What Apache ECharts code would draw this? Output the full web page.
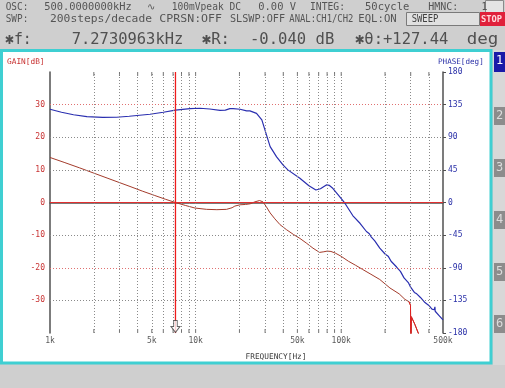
<!DOCTYPE html>
<html><head><meta charset="utf-8">
<script src="https://cdn.jsdelivr.net/npm/echarts@6/dist/echarts.min.js"></script>
<style>html,body{margin:0;padding:0;background:#cdcdcd;overflow:hidden}#c{width:505px;height:388px}</style>
</head><body><div id="c"></div>
<script>
// ---------- data ----------
const gainFreq = [1000,1250,1600,2000,2500,3000,3600,4300,5200,6200,7270,8500,9900,11900,14000,16300,17800,18600,20200,22000,23700,25500,27500,29000,30500,32500,35000,38000,42000,47000,52000,57500,64000,71000,76000,80000,85000,91000,100000,112000,125000,140000,160000,184000,216000,250000,274000,292000,299000,301000,303000,320000,345000];
const gainDb   = [13.8,12.3,10.6,9.0,7.4,6.1,4.8,3.5,2.2,1.0,0.0,-0.9,-1.7,-2.1,-2.2,-2.1,-1.6,-1.1,-0.7,-0.6,-0.4,0.2,0.6,0.2,-1.2,-3.2,-5.0,-6.8,-8.3,-9.8,-11.0,-12.4,-14.0,-15.3,-15.1,-14.9,-15.0,-15.5,-16.5,-18.0,-19.2,-20.5,-22.0,-23.6,-26.2,-28.0,-29.7,-30.4,-31.5,-46,-35.0,-37.3,-41.0];
const phaseFreq = [1000,1200,1450,1790,2300,2870,3500,4860,6000,7270,9150,10700,12500,14700,16000,17200,18100,20200,22400,23600,26200,28500,30700,32500,36000,39800,43000,52000,60000,67000,72000,79000,83000,87500,95000,106000,120000,135000,149000,156000,160000,170000,184000,200000,210000,220000,240000,255000,270000,290000,298000,305000,318000,330000,350000,376000,400000,420000,435000,440000,442000,470000,500000];
const phaseDeg  = [128.6,124.5,121,118.4,117.5,117.6,119,121.7,124.5,127.4,129.4,130,129,127.2,127.5,129.4,129.6,128.6,126.3,126.3,123,113.9,93,77,63,51.8,45,33.4,23,17.3,19,24.2,23.5,19.6,11,-1,-18,-29,-40,-43,-47,-53,-63,-71,-74,-81,-89,-95,-104,-111,-116,-118,-124,-126,-131,-138,-142,-147,-148,-144,-150,-156,-162];
const gainHiFreqFrom = 290000;   // part of the gain trace drawn in bright red
const markerFreq = 7273.0963;
const xGridFreq = [2000,3000,4000,5000,6000,7000,8000,9000,10000,20000,30000,40000,50000,60000,70000,80000,90000,100000,200000,300000,400000];
const xLabelFreq = [1000,5000,10000,50000,100000,500000];
const xLabelText = ['1k','5k','10k','50k','100k','500k'];
const gainGridDb = [-30,-20,-10,10,20,30];
const gainRedGridDb = [30,-20];
const gainTicks = {min:-40,max:40,step:10};
const phaseTicks = {min:-180,max:180,step:45};

const row1 = ['OSC:','500.0000000kHz','\u223F','100mVpeak DC','0.00 V','INTEG:','50cycle','HMNC:','1'];
const row2 = ['SWP:','200steps/decade','CPRSN:OFF','SLSWP:OFF','ANAL:CH1/CH2','EQL:ON'];
const row3 = ['\u2731f:','7.2730963kHz','\u2731R:','-0.040 dB','\u2731\u03B8:+127.44','deg'];
const tabs = ['1','2','3','4','5','6'];

// ---------- layout ----------
const MONO = '"DejaVu Sans Mono", "Liberation Mono", monospace';
const row1Span = [[5.7,28.3],[44.3,131.7],[146.7,156.7],[171.7,241],[258.3,296],[310,345],[365,409.3],[428.3,458.3],[481.5,485]];
const row2Span = [[5.7,28.3],[50,152],[159.3,222],[230,285],[289.3,353.3],[358.3,396.7]];
const row3Span = [[5,31.7],[71.7,183.3],[201.7,230],[250,334.3],[355,448.3],[466.7,498.3]];
const tabY = [52,107,159,211,263,315];

const cv = document.createElement('canvas').getContext('2d');
function fitText(t, span, y, font, fill, z){
  cv.font = font;
  const w = cv.measureText(t).width || 1;
  const s = t.length === 1 ? 1 : (span[1]-span[0])/w;
  return {type:'text', z:z||10, x:span[0], y:y, scaleX:s, style:{text:t, fill:fill, font:font, verticalAlign:'middle'}};
}

const g = [];
g.push({type:'rect', z:-20, shape:{x:0,y:0,width:505,height:388}, style:{fill:'#cfcfcf'}});
g.push({type:'rect', z:-19, shape:{x:493,y:50,width:12,height:315}, style:{fill:'#d8d8d8'}});
g.push({type:'rect', z:-18, shape:{x:1.5,y:50.5,width:489.5,height:312.5}, style:{fill:'#ffffff', stroke:'#3fcfd2', lineWidth:3}});
const f12 = '9.8px '+MONO, f3 = '16.2px '+MONO;
row1.forEach((t,i)=>g.push(fitText(t,row1Span[i],7,f12,'#555555')));
row2.forEach((t,i)=>g.push(fitText(t,row2Span[i],19.5,f12,'#555555')));
row3.forEach((t,i)=>g.push(fitText(t,row3Span[i],39.5,f3,'#505050')));
g.push({type:'rect', z:9, shape:{x:485.5,y:0.5,width:18,height:13}, style:{fill:'#e4e4e4', stroke:'#8a8a8a', lineWidth:1}});
g.push({type:'rect', z:9, shape:{x:406.5,y:12.5,width:73,height:13}, style:{fill:'#e0e0e0', stroke:'#7a7a7a', lineWidth:1}});
g.push(fitText('SWEEP',[411.7,438.3],19.5,f12,'#404040'));
g.push({type:'rect', z:9, shape:{x:480,y:12,width:25,height:14}, style:{fill:'#e0203a'}});
g.push(fitText('STOP',[481,502],19.5,'bold 9.5px '+MONO,'#ffd8dc'));
tabs.forEach((t,i)=>{
  g.push({type:'rect', z:9, shape:{x:494,y:tabY[i],width:11,height:i===0?20:18}, style:{fill: i===0?'#1a1aa8':'#8c8c8c'}});
  g.push({type:'text', z:10, x:499.5, y:tabY[i]+9, style:{text:t, fill: i===0?'#ffffff':'#dcdcdc', font:'12px '+MONO, align:'center', verticalAlign:'middle'}});
});
g.push({type:'text', z:10, x:7, y:62, style:{text:'GAIN[dB]', fill:'#c83232', font:'7.8px '+MONO, verticalAlign:'middle'}});
g.push({type:'text', z:10, x:438, y:62, style:{text:'PHASE[deg]', fill:'#2a30a8', font:'7.6px '+MONO, verticalAlign:'middle'}});
g.push({type:'text', z:10, x:276, y:357, style:{text:'FREQUENCY[Hz]', fill:'#3a3a3a', font:'7.8px '+MONO, align:'center', verticalAlign:'middle'}});

const gridLines = [];
xGridFreq.forEach(f=>gridLines.push({xAxis:f, lineStyle:{color:'#8a8a8a', type:[1,2], width:1}}));
gainGridDb.forEach(v=>gridLines.push({yAxis:v, lineStyle:{color: gainRedGridDb.includes(v)?'#e07070':'#8a8a8a', type:[1,2], width:1}}));
gridLines.push({yAxis:0, lineStyle:{color:'#e03030', type:'solid', width:1}});

const tickData = [];
xGridFreq.forEach(f=>{
  tickData.push({value:[f,gainTicks.min], symbolOffset:[0,-2]});
  tickData.push({value:[f,gainTicks.max], symbolOffset:[0,2]});
});

const gainData = gainFreq.map((f,i)=>[f,gainDb[i]]);
const gainHiData = gainData.filter(d=>d[0]>=gainHiFreqFrom);
const phaseData = phaseFreq.map((f,i)=>[f,phaseDeg[i]]);
const markerData = [[markerFreq,gainTicks.min],[markerFreq,gainTicks.max]];

const option = {
  animation:false,
  graphic:{elements:g},
  grid:{left:50,right:62,top:72,bottom:55,containLabel:false},
  xAxis:{type:'log', logBase:10, min:1000, max:500000,
    axisLine:{show:true, lineStyle:{color:'#505050', width:1.5}},
    axisTick:{show:false}, axisLabel:{show:false}, splitLine:{show:false}},
  yAxis:[
    {type:'value', position:'left', min:gainTicks.min, max:gainTicks.max, interval:gainTicks.step,
     axisLine:{show:true, lineStyle:{color:'#505050', width:1.5}},
     axisTick:{show:false}, splitLine:{show:false},
     axisLabel:{margin:5, color:'#c83232', fontSize:8, fontFamily:'DejaVu Sans Mono',
       formatter:v=> (v===gainTicks.min||v===gainTicks.max)?'':String(v)}},
    {type:'value', position:'right', min:phaseTicks.min, max:phaseTicks.max, interval:phaseTicks.step,
     axisLine:{show:true, lineStyle:{color:'#505050', width:1.5}},
     axisTick:{show:true, length:3, lineStyle:{color:'#505050'}}, splitLine:{show:false},
     axisLabel:{margin:5, color:'#2a30a8', fontSize:8, fontFamily:'DejaVu Sans Mono'}}
  ],
  series:[
    {type:'line', data:[], z:1, silent:true,
     markLine:{silent:true, symbol:'none', label:{show:false}, animation:false, data:gridLines}},
    {type:'scatter', data:tickData, symbol:'rect', symbolSize:[1,4], clip:false, silent:true,
     itemStyle:{color:'#505050'}, z:2},
    {type:'scatter', data:xLabelFreq.map(f=>[f,gainTicks.min]), symbolSize:1, clip:false, silent:true,
     itemStyle:{color:'rgba(0,0,0,0)'},
     label:{show:true, position:'bottom', distance:3, color:'#303030', fontSize:8, fontFamily:'DejaVu Sans Mono',
       formatter:p=>xLabelText[p.dataIndex]}},
    {type:'line', yAxisIndex:0, data:gainData, showSymbol:false, z:4,
     lineStyle:{width:1, color:'#a33b2b'}, itemStyle:{color:'#a33b2b'}},
    {type:'line', yAxisIndex:0, data:gainHiData, showSymbol:false, z:5,
     lineStyle:{width:1, color:'#e02020'}, itemStyle:{color:'#e02020'}},
    {type:'line', yAxisIndex:1, data:phaseData, showSymbol:false, z:3,
     lineStyle:{width:1.2, color:'#2a2fb0'}, itemStyle:{color:'#2a2fb0'}},
    {type:'line', yAxisIndex:0, data:markerData, showSymbol:false, z:6, silent:true,
     lineStyle:{width:1.3, color:'#ee1c1c'}, itemStyle:{color:'#ee1c1c'}},
    {type:'scatter', yAxisIndex:0, data:[[markerFreq,gainTicks.min]], z:7, clip:false, silent:true,
     symbol:'path://M3,0L7,0L7,6L10,6L5,12L0,6L3,6Z', symbolSize:[9,12], symbolOffset:[0,-6.5],
     itemStyle:{color:'#ffffff', borderColor:'#404040', borderWidth:1}}
  ]
};
const chart = echarts.init(document.getElementById('c'), null, {renderer:'canvas'});
chart.setOption(option);
</script></body></html>
